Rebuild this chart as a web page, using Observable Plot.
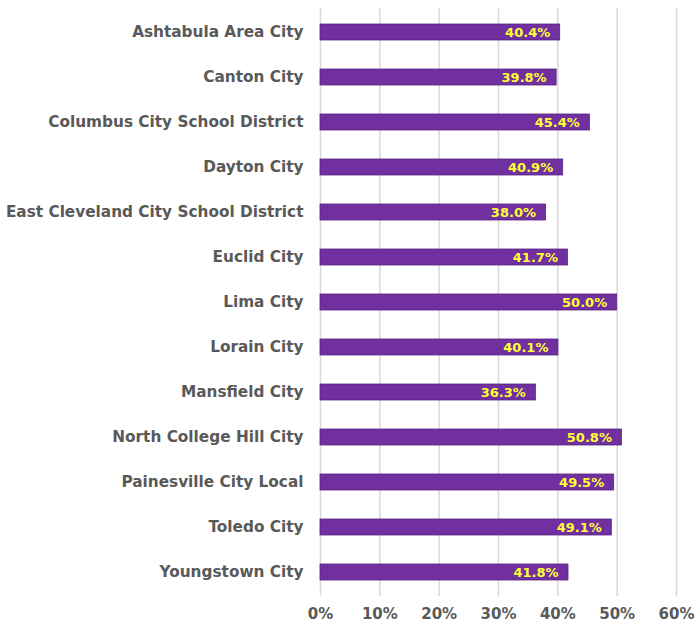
<!DOCTYPE html>
<html><head><meta charset="utf-8">
<script src="https://cdn.jsdelivr.net/npm/d3@7"></script>
<script src="https://cdn.jsdelivr.net/npm/@observablehq/plot@0.6"></script>
<style>
body{margin:0;background:#fff;}
svg{font-family:"DejaVu Sans",sans-serif;}
</style>
</head><body>
<div id="chart"></div>
<script>
const districts = ["Ashtabula Area City","Canton City","Columbus City School District","Dayton City","East Cleveland City School District","Euclid City","Lima City","Lorain City","Mansfield City","North College Hill City","Painesville City Local","Toledo City","Youngstown City"];
const rates = [40.4,39.8,45.4,40.9,38.0,41.7,50.0,40.1,36.3,50.8,49.5,49.1,41.8];
const xTicks = [0,10,20,30,40,50,60];
const data = districts.map((d,i)=>({district:d, rate:rates[i]}));

const chart = Plot.plot({
  width:700, height:630,
  marginLeft:320, marginRight:24, marginTop:8, marginBottom:34,
  style:{fontFamily:"'DejaVu Sans',sans-serif", background:"#fff"},
  x:{domain:[0,60], ticks:xTicks, tickFormat:d=>d+"%", label:null},
  y:{domain:districts, paddingInner:0.646, paddingOuter:0.323, label:null},
  marks:[
    Plot.ruleX(xTicks,{stroke:"#d9d9d9", strokeWidth:1.5}),
    Plot.barX(data,{y:"district", x:"rate", fill:"#7030A0", stroke:"#5a2484", strokeWidth:0.8}),
    Plot.text(data,{y:"district", x:"rate", text:d=>d.rate.toFixed(1)+"%", textAnchor:"end", dx:-10, fill:"#FFFF33", fontWeight:"bold", fontSize:13}),
    Plot.axisX({ticks:xTicks, tickFormat:d=>d+"%", tickSize:0, tickPadding:12, fontSize:15, fontWeight:"bold", fill:"#595959", label:null}),
    Plot.axisY({tickSize:0, tickPadding:17, fontSize:15.3, fontWeight:"bold", fill:"#595959", label:null})
  ]
});
document.getElementById("chart").append(chart);
</script>
</body></html>
